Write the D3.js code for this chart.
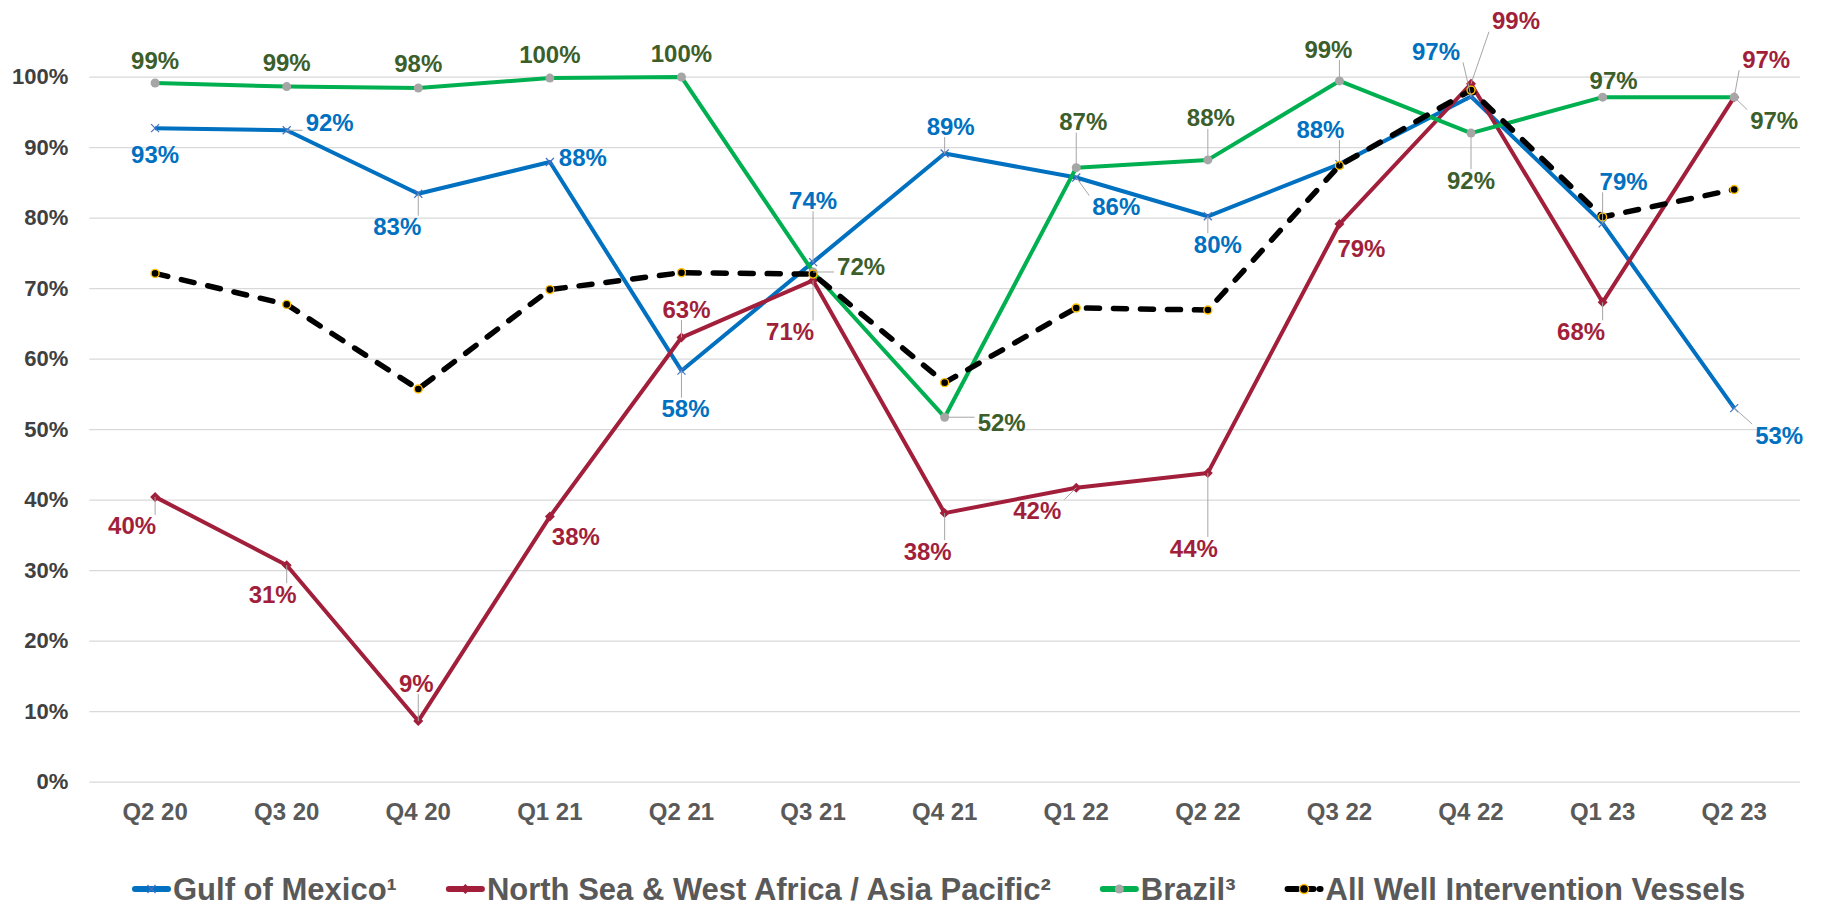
<!DOCTYPE html>
<html>
<head>
<meta charset="utf-8">
<script src="https://cdn.jsdelivr.net/npm/d3@7"></script>
<style>
  html, body { margin: 0; padding: 0; background: #fff; }
  svg { display: block; }
  text { font-family: "Liberation Sans", Arial, sans-serif; font-weight: bold; }
</style>
</head>
<body>
<svg id="chart" width="1823" height="906"></svg>
<script>
// ---------------- DATA ----------------
const categories = ["Q2 20","Q3 20","Q4 20","Q1 21","Q2 21","Q3 21","Q4 21","Q1 22","Q2 22","Q3 22","Q4 22","Q1 23","Q2 23"];
const gulf      = [92.7, 92.4, 83.4, 87.9, 58.3, 73.7, 89.1, 85.7, 80.2, 87.6, 97.2, 79.2, 53.0];
const northSea  = [40.4, 30.7, 8.6, 37.6, 63.0, 71.1, 38.1, 41.7, 43.8, 79.1, 99.0, 68.0, 97.1];
const brazil    = [99.1, 98.6, 98.4, 99.8, 99.95, 72.3, 51.7, 87.1, 88.2, 99.4, 92.0, 97.1, 97.1];
const allWIV    = [72.1, 67.7, 55.7, 69.8, 72.2, 72.0, 56.6, 67.2, 66.9, 87.4, 98.1, 80.1, 84.0];
const yTicks    = [0, 10, 20, 30, 40, 50, 60, 70, 80, 90, 100];
const seriesNames = ["Gulf of Mexico\u00B9", "North Sea & West Africa / Asia Pacific\u00B2", "Brazil\u00B3", "All Well Intervention Vessels"];

// label placement (dx, dy from point to label centre, leader line flag)
const gulfLabelPos = [[0,26,0],[43,-8,1],[-21,33,1],[33,-5,0],[4,38,1],[0,-62,1],[6,-27.5,1],[40,29,1],[10,28,1],[-19,-35,1],[-35,-45,1],[21,-42,1],[45,27,1]];
const northLabelPos = [[-23,29,1],[-14,29,1],[-2,-38,1],[26,20,0],[5,-28.5,1],[-23,51,1],[-17,38,1],[-39,23,1],[-14,75,1],[22,24,0],[45,-63,1],[-21.5,29,1],[32,-38,1]];
const brazilLabelPos = [[0,-23,0],[0,-24,0],[0,-25,0],[0,-24,0],[0,-24,0],[48,-6,1],[57,5.5,1],[7,-46,1],[3,-42,1],[-11,-32,1],[0,47,1],[11,-17,0],[40,23.5,1]];

// ---------------- LAYOUT ----------------
const plot = { left: 89.3, right: 1800, top: 76.7, bottom: 781.7 };
const svg = d3.select("#chart");

const x = d3.scaleBand().domain(categories).range([plot.left, plot.right]).padding(0);
const cx = c => x(c) + x.bandwidth() / 2;
const y = d3.scaleLinear().domain([0, 100]).range([plot.bottom, plot.top]);

// gridlines + y axis
const yAxis = d3.axisLeft(y).tickValues(yTicks).tickFormat(d => d + "%")
  .tickSize(-(plot.right - plot.left)).tickPadding(21);
const gy = svg.append("g").attr("transform", `translate(${plot.left},0)`).call(yAxis);
gy.select(".domain").remove();
gy.selectAll(".tick line").attr("stroke", "#D9D9D9").attr("stroke-width", 1.3);
gy.selectAll(".tick text").attr("fill", "#404040").style("font-size", "22px")
  .style("font-family", "'Liberation Sans', Arial, sans-serif").style("font-weight", "bold");

// x axis
const xAxis = d3.axisBottom(x).tickSize(0).tickPadding(21);
const gx = svg.append("g").attr("transform", `translate(0,${plot.bottom})`).call(xAxis);
gx.select(".domain").remove();
gx.selectAll(".tick text").attr("fill", "#595959").style("font-size", "24px")
  .style("font-family", "'Liberation Sans', Arial, sans-serif").style("font-weight", "bold");

// ---------------- SERIES ----------------
const series = [
  { name: seriesNames[0], values: gulf, color: "#0070C0", labelColor: "#0070C0", marker: "x", labels: gulfLabelPos },
  { name: seriesNames[1], values: northSea, color: "#A21F3B", labelColor: "#A21F3B", marker: "diamond", labels: northLabelPos },
  { name: seriesNames[2], values: brazil, color: "#00B050", labelColor: "#3B5E2B", marker: "grayCircle", labels: brazilLabelPos },
  { name: seriesNames[3], values: allWIV, color: "#000000", labelColor: null, marker: "yellowCircle", labels: null, dashed: true }
];

const line = d3.line().x((d, i) => cx(categories[i])).y(d => y(d));

function drawMarker(g, type, px, py, color, legend) {
  if (type === "x") {
    const s = 4;
    g.append("path").attr("d", `M${px-s},${py-s}L${px+s},${py+s}M${px-s},${py+s}L${px+s},${py-s}`)
      .attr("stroke", "#4472C4").attr("stroke-width", 1.2).attr("fill", "none");
  } else if (type === "diamond") {
    const s = 5;
    g.append("path").attr("d", `M${px},${py-s}L${px+s},${py}L${px},${py+s}L${px-s},${py}Z`).attr("fill", color);
  } else if (type === "grayCircle") {
    g.append("circle").attr("cx", px).attr("cy", py).attr("r", 4.5).attr("fill", "#A6A6A6");
  } else if (type === "yellowCircle") {
    g.append("circle").attr("cx", px).attr("cy", py).attr("r", legend ? 4.5 : 4).attr("fill", "#000")
      .attr("stroke", "#FFC000").attr("stroke-width", 1.4);
  }
}

const linesG = svg.append("g");
series.forEach(s => {
  const g = linesG.append("g");
  const p = g.append("path").datum(s.values).attr("d", line).attr("fill", "none")
    .attr("stroke", s.color).attr("stroke-linejoin", "round");
  if (s.dashed) {
    p.attr("stroke-width", 5.5).attr("stroke-dasharray", "13,14").attr("stroke-linecap", "round");
  } else {
    p.attr("stroke-width", 4);
  }
  s.values.forEach((v, i) => drawMarker(g, s.marker, cx(categories[i]), y(v), s.color, false));
});

// ---------------- DATA LABELS ----------------
const fmt = v => Math.round(v) + "%";
const leaderG = svg.append("g");
const labelG = svg.append("g");
series.forEach(s => {
  if (!s.labels) return;
  s.values.forEach((v, i) => {
    const px = cx(categories[i]), py = y(v);
    const [dx, dy, lead] = s.labels[i];
    const lx = px + dx, ly = py + dy;
    const t = labelG.append("text").attr("x", lx).attr("y", ly + 8.6)
      .attr("text-anchor", "middle").attr("fill", s.labelColor)
      .style("font-size", "24px").text(fmt(v));
    if (lead) {
      const w = t.node().getComputedTextLength();
      const hw = w / 2 + 3, hh = 11;
      const qx = Math.max(lx - hw, Math.min(px, lx + hw));
      const qy = Math.max(ly - hh, Math.min(py, ly + hh));
      leaderG.append("line").attr("x1", px).attr("y1", py).attr("x2", qx).attr("y2", qy)
        .attr("stroke", "#A6A6A6").attr("stroke-width", 1);
    }
  });
});

// ---------------- LEGEND ----------------
const legendG = svg.append("g");
const legY = 889;
let lx = 132;
series.forEach(s => {
  const g = legendG.append("g");
  const l = g.append("line").attr("x1", lx + 3).attr("x2", lx + 36).attr("y1", legY).attr("y2", legY)
    .attr("stroke", s.color).attr("stroke-width", 6).attr("stroke-linecap", "round");
  if (s.dashed) l.attr("stroke-dasharray", "10,6");
  drawMarker(g, s.marker, lx + 19.5, legY, s.color, true);
  const t = g.append("text").attr("x", lx + 41).attr("y", legY + 11).attr("fill", "#595959")
    .style("font-size", "31px").text(s.name);
  lx = lx + 41 + t.node().getComputedTextLength() + 49;
});
</script>
</body>
</html>
